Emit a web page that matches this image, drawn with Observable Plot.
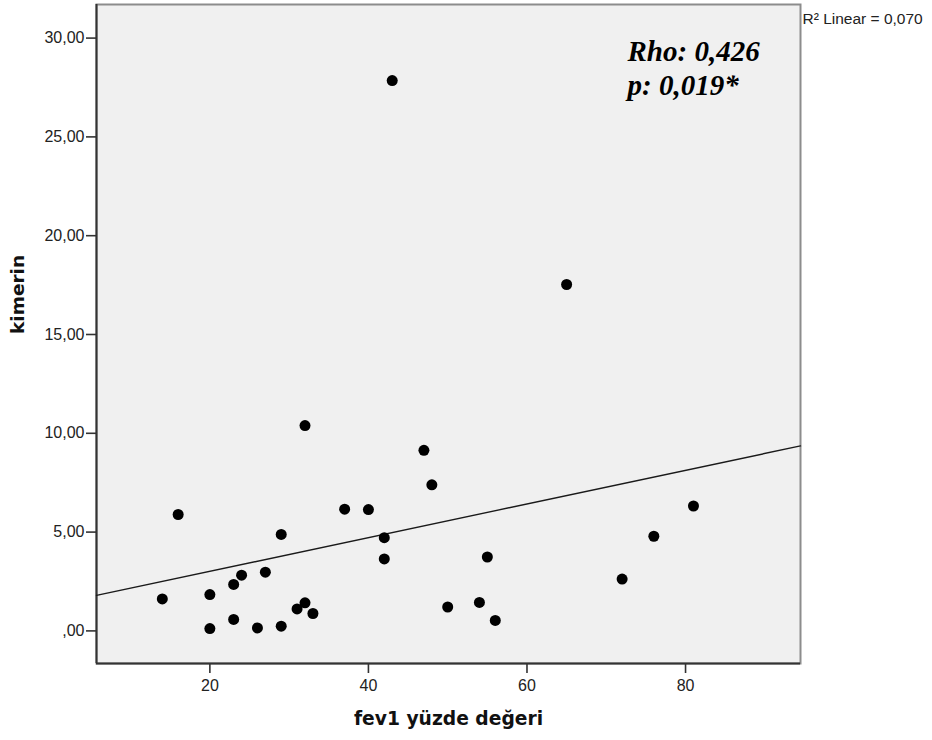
<!DOCTYPE html>
<html>
<head>
<meta charset="utf-8">
<script src="https://cdn.jsdelivr.net/npm/d3@7"></script>
<script src="https://cdn.jsdelivr.net/npm/@observablehq/plot@0.6"></script>
<style>
  html, body { margin: 0; padding: 0; background: #ffffff; }
  #chart svg { display: block; }
</style>
</head>
<body>
<div id="chart"></div>
<script>
// fev1 yüzde değeri (x) and kimerin (y)
const fev1 = [14, 16, 20, 20, 23, 23, 24, 26, 27, 29, 29, 31, 32, 32, 33, 37, 40, 42, 42, 43, 47, 48, 50, 54, 55, 56, 65, 72, 76, 81];
const kimerin = [1.62, 5.89, 1.84, 0.12, 2.35, 0.58, 2.82, 0.15, 2.97, 4.88, 0.24, 1.11, 1.42, 10.39, 0.88, 6.16, 6.14, 4.72, 3.64, 27.85, 9.14, 7.39, 1.21, 1.44, 3.74, 0.53, 17.53, 2.62, 4.79, 6.32];

const xDomain = [5.7, 94.5];
const yDomain = [-1.65, 31.7];
const xTicks = [20, 40, 60, 80];
const yTicks = [0, 5, 10, 15, 20, 25, 30];
const yTickLabels = [",00", "5,00", "10,00", "15,00", "20,00", "25,00", "30,00"];

const xTitle = "fev1 yüzde değeri";
const yTitle = "kimerin";
const statLines = ["Rho: 0,426", "p: 0,019*"];
const r2Text = "R² Linear = 0,070";

const points = fev1.map((x, i) => ({x, y: kimerin[i]}));

// least-squares fit line, drawn across the whole x range like SPSS does
const mx = d3.mean(fev1), my = d3.mean(kimerin);
const slope = d3.sum(points, d => (d.x - mx) * (d.y - my)) / d3.sum(points, d => (d.x - mx) ** 2);
const intercept = my - slope * mx;
const fit = xDomain.map(x => ({x, y: intercept + slope * x}));

const chart = Plot.plot({
  width: 932,
  height: 740,
  marginLeft: 96,
  marginRight: 132,
  marginTop: 4,
  marginBottom: 77,
  style: {fontFamily: "'Liberation Sans', Arial, sans-serif", fontSize: "16px", background: "#ffffff", color: "#222"},
  x: {domain: xDomain, ticks: xTicks},
  y: {domain: yDomain, ticks: yTicks},
  marks: [
    Plot.frame({fill: "#f0f0f0", stroke: "#8c8c8c", strokeWidth: 2}),
    Plot.ruleX([xDomain[0]], {stroke: "#333", strokeWidth: 2}),
    Plot.ruleY([yDomain[0]], {stroke: "#333", strokeWidth: 2}),
    Plot.axisX({ticks: xTicks, tickSize: 10, tickPadding: 6, stroke: "#333", strokeWidth: 1.6, fill: "#222", label: null}),
    Plot.axisY({ticks: yTicks, tickSize: 10, tickPadding: 2, stroke: "#333", strokeWidth: 1.6, fill: "#222", label: null,
      tickFormat: d => yTickLabels[yTicks.indexOf(d)]}),
    Plot.line(fit, {x: "x", y: "y", stroke: "#1a1a1a", strokeWidth: 1.4}),
    Plot.dot(points, {x: "x", y: "y", r: 5.5, fill: "#000", stroke: "none"}),
    Plot.text([statLines.join("\n")], {frameAnchor: "top-left", dx: 531, dy: 33, lineAnchor: "top", textAnchor: "start",
      lineHeight: 1.16, fontFamily: "'Liberation Serif', 'Times New Roman', serif", fontStyle: "italic", fontWeight: "bold", fontSize: 29, fill: "#000"}),
    Plot.text([r2Text], {frameAnchor: "top-right", dx: 2, dy: 8, lineAnchor: "top", textAnchor: "start",
      fontFamily: "'Liberation Sans', Arial, sans-serif", fontSize: 15.5, fill: "#222"}),
    Plot.text([yTitle], {frameAnchor: "left", dx: -78, rotate: -90, fontFamily: "'DejaVu Sans', sans-serif", fontWeight: "bold", fontSize: 18.5, fill: "#111"}),
    Plot.text([xTitle], {frameAnchor: "bottom", dy: 61, fontFamily: "'DejaVu Sans', sans-serif", fontWeight: "bold", fontSize: 18.7, fill: "#111"})
  ]
});
document.getElementById("chart").appendChild(chart);
</script>
</body>
</html>
